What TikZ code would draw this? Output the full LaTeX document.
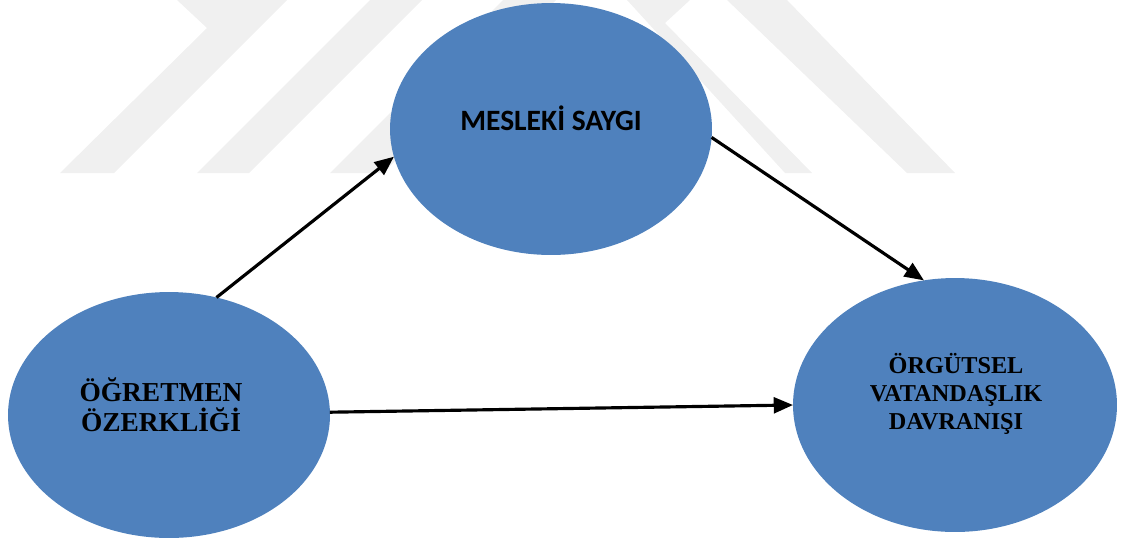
\documentclass[tikz,border=0pt]{standalone}
\usepackage{fontspec}
\setmainfont{Liberation Serif}
\newfontfamily\calibfont{Carlito}
\usetikzlibrary{arrows.meta,shapes.geometric}
\definecolor{bubbleblue}{RGB}{79,129,189}
\definecolor{markgray}{RGB}{240,240,240}
\tikzset{
  bubble/.style={ellipse,fill=bubbleblue,draw=none,inner sep=0pt,outer sep=0pt},
  link/.style={line width=1.8pt,-{Triangle[length=11pt,width=9pt]}},
}
\begin{document}
\begin{tikzpicture}[x=0.02cm,y=-0.02cm]
  \useasboundingbox (0,0) rectangle (1124,545);
  %% watermark
  \fill[markgray] (60,173) -- (207,28) -- (177,0) -- (287,0) -- (114,173) -- cycle;
  \fill[markgray] (197,173) -- (370,0) -- (422,0) -- (249,173) -- cycle;
  \fill[markgray] (330,173) -- (503,0) -- (556,0) -- (383,173) -- cycle;
  \fill[markgray] (785,173) -- (627,0) -- (690,0) -- (665,23) -- (812,173) -- cycle;
  \fill[markgray] (907,173) -- (727,0) -- (787,0) -- (955,173) -- cycle;
  %% bubbles
  \node[bubble,minimum width=6.44cm,minimum height=5.04cm] (saygi) at (551,129) {};
  \node[bubble,minimum width=6.44cm,minimum height=4.92cm] (ogretmen) at (169,415) {};
  \node[bubble,minimum width=6.48cm,minimum height=5.08cm] (orgutsel) at (955,405) {};
  %% labels
  \node[font=\calibfont\bfseries\fontsize{16.8}{19}\selectfont] (saygiT) at (551,118) {MESLEKİ SAYGI};
  \node[align=center,font=\bfseries\fontsize{15.6}{17}\selectfont] (ogretmenT) at (161,405) {ÖĞRETMEN\\ÖZERKLİĞİ};
  \node[align=center,font=\bfseries\fontsize{13.8}{16}\selectfont] (orgutselT) at (956,394) {ÖRGÜTSEL\\VATANDAŞLIK\\DAVRANIŞI};
  %% arrows
  \draw[link] (ogretmen.68) -- (saygi.190);
  \draw[link] (saygi.-3) -- (orgutsel.104);
  \draw[link] (ogretmen.1) -- (orgutsel.180);
\end{tikzpicture}
\end{document}
